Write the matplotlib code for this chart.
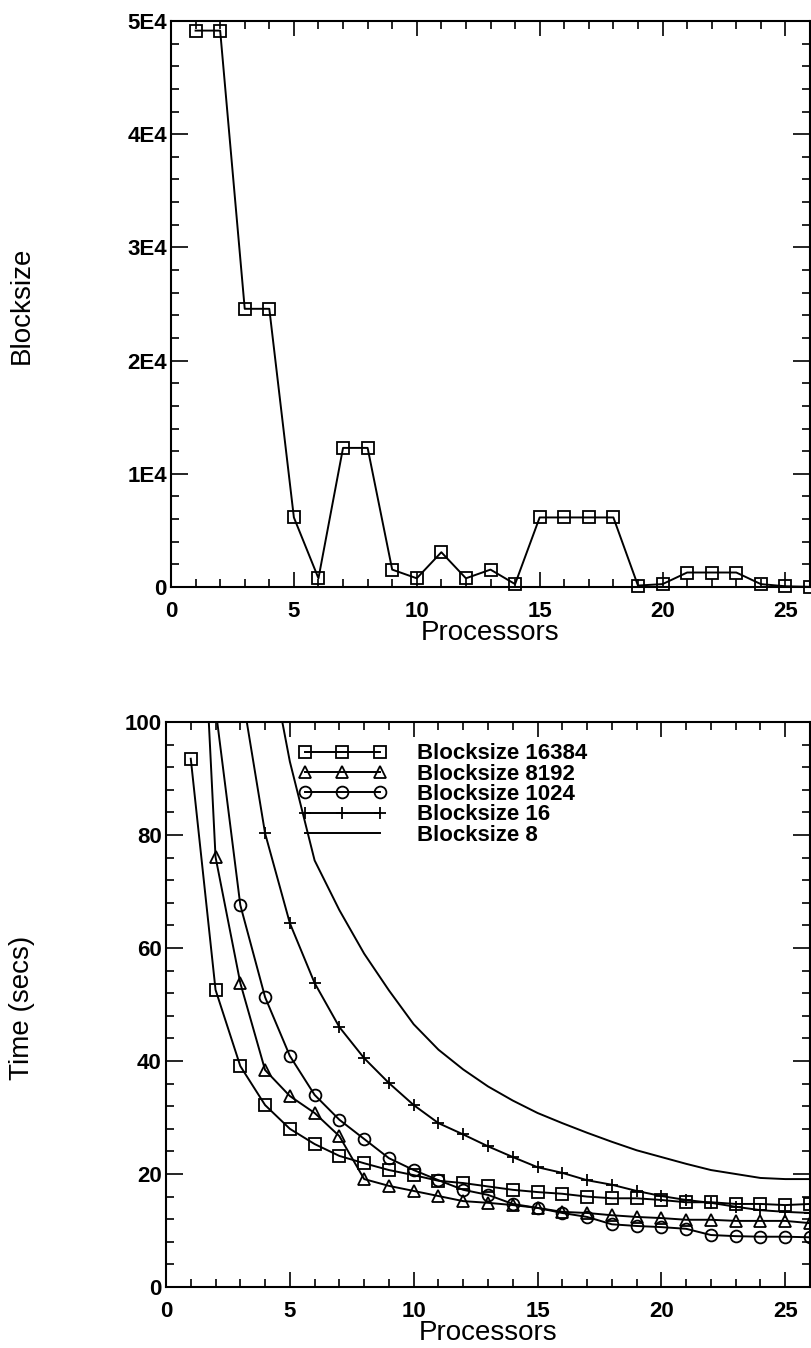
import matplotlib
matplotlib.use('Agg')
import matplotlib.pyplot as plt
from matplotlib.ticker import MultipleLocator, FixedLocator, FixedFormatter

plt.rcParams['font.family'] = ['Liberation Sans', 'DejaVu Sans']

# top panel: blocksize chosen per processor count
procs = list(range(1, 27))
blocksize = [49152, 49152, 24576, 24576, 6144, 768, 12288, 12288, 1536, 768,
             3072, 768, 1536, 256, 6144, 6144, 6144, 6144, 128, 256,
             1280, 1280, 1280, 256, 64, 16]
bs_ticks = [0, 10000, 20000, 30000, 40000, 50000]
bs_labels = ['0', '1E4', '2E4', '3E4', '4E4', '5E4']

# bottom panel: run time vs processors for several block sizes
x16384 = list(range(1, 27))
t16384 = [93.5, 52.6, 39.1, 32.2, 28.0, 25.3, 23.2, 21.9, 20.7, 19.8, 18.8, 18.4, 17.8,
          17.2, 16.8, 16.5, 16.0, 15.7, 15.7, 15.4, 15.0, 15.0, 14.7, 14.7, 14.5, 14.7]
x8192 = list(range(1, 27))
t8192 = [164, 76.1, 53.8, 38.4, 33.8, 30.8, 26.7, 19.1, 17.9, 17.0, 16.1, 15.2, 14.9,
         14.5, 14.0, 13.3, 13.1, 12.7, 12.4, 12.2, 11.9, 11.9, 11.7, 11.7, 11.7, 11.3]
x1024 = list(range(2, 27))
t1024 = [102.4, 67.6, 51.3, 40.9, 34.0, 29.6, 26.2, 22.8, 20.7, 18.9, 17.2, 16.3,
         14.7, 14.0, 13.1, 12.4, 11.1, 10.8, 10.6, 10.3, 9.2, 9.0, 8.9, 8.9, 8.8]
x16 = list(range(3, 27))
t16 = [107, 80.3, 64.4, 53.8, 46.0, 40.5, 36.1, 32.2, 29.0, 27.0, 24.9, 23.0,
       21.2, 20.2, 18.9, 18.1, 17.0, 16.1, 15.4, 14.9, 14.2, 13.6, 13.3, 13.1]
x8 = list(range(4, 27))
t8 = [116, 93, 75.5, 66.7, 59, 52.5, 46.5, 42, 38.5, 35.5, 33, 30.8,
      29, 27.3, 25.7, 24.2, 23, 21.8, 20.7, 20.0, 19.3, 19.1, 19.1]

W, H = 811, 1348
fig = plt.figure(figsize=(W / 100.0, H / 100.0), dpi=100)

ax1 = fig.add_axes([171.0 / W, 1 - 587.0 / H, (810.0 - 171) / W, 566.0 / H])
ax2 = fig.add_axes([166.0 / W, 1 - 1287.0 / H, (810.0 - 166) / W, 565.0 / H])

lw = 1.4
ax1.plot(procs, blocksize, 'k-', marker='s', ms=8.5, mfc='none', mew=1.3, lw=lw, clip_on=False)
ax1.set_xlim(0, 26)
ax1.set_ylim(0, 50000)
ax1.yaxis.set_major_locator(FixedLocator(bs_ticks))
ax1.yaxis.set_major_formatter(FixedFormatter(bs_labels))
ax1.yaxis.set_minor_locator(MultipleLocator(2000))

ax2.plot(x16384, t16384, 'k-', marker='s', ms=8.5, mfc='none', mew=1.3, lw=lw, label='Blocksize 16384')
ax2.plot(x8192, t8192, 'k-', marker='^', ms=8, mfc='none', mew=1.3, lw=lw, label='Blocksize 8192')
ax2.plot(x1024, t1024, 'k-', marker='o', ms=8.5, mfc='none', mew=1.3, lw=lw, label='Blocksize 1024')
ax2.plot(x16, t16, 'k-', marker='+', ms=8, mew=1.3, lw=lw, label='Blocksize 16')
ax2.plot(x8, t8, 'k-', lw=lw, label='Blocksize 8')
ax2.set_xlim(0, 26)
ax2.set_ylim(0, 100)
ax2.yaxis.set_major_locator(MultipleLocator(20))
ax2.yaxis.set_minor_locator(MultipleLocator(4))

for ax in (ax1, ax2):
    ax.xaxis.set_major_locator(MultipleLocator(5))
    ax.xaxis.set_minor_locator(MultipleLocator(1))
    for sp in ax.spines.values():
        sp.set_linewidth(1.5)
    ax.tick_params(which='both', direction='in', top=True, right=True, width=1.2)
    ax.tick_params(axis='x', which='major', length=11, pad=10)
    ax.tick_params(axis='y', which='major', length=12.5, pad=3)
    ax.tick_params(which='minor', length=5.5)
    ax.tick_params(labelsize=16)
    for lab in ax.get_xticklabels() + ax.get_yticklabels():
        lab.set_fontweight('bold')
    ax.set_xlabel('Processors', fontsize=20, labelpad=-1)

leg = ax2.legend(loc='upper left', bbox_to_anchor=(0.205, 0.962), frameon=False,
                 numpoints=3, handlelength=4.0, handletextpad=1.35, labelspacing=-0.03,
                 borderpad=0, borderaxespad=0,
                 prop={'size': 16, 'weight': 'bold'})

fig.text(22.0 / W, 1 - 305.0 / H, 'Blocksize', rotation=90, ha='center', va='center', fontsize=20)
fig.text(22.0 / W, 1 - 1008.0 / H, 'Time (secs)', rotation=90, ha='center', va='center', fontsize=20)

fig.savefig('out.png', dpi=100)
